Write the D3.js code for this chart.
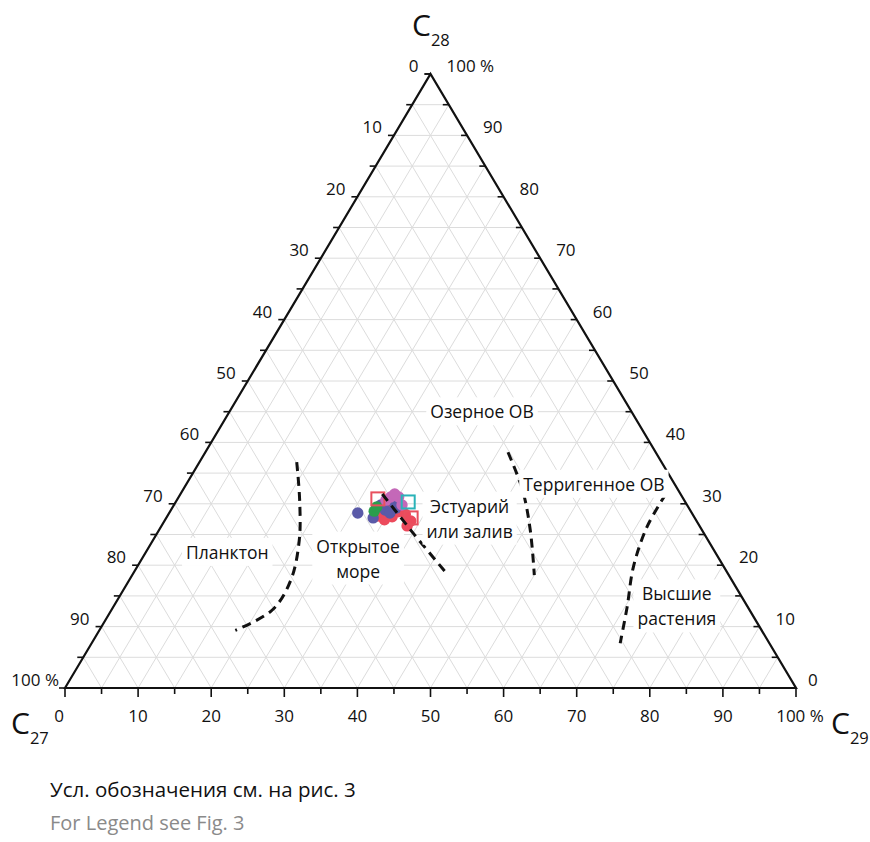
<!DOCTYPE html>
<html>
<head>
<meta charset="utf-8">
<script src="https://cdn.jsdelivr.net/npm/d3@7"></script>
<style>
  html, body { margin: 0; padding: 0; background: #fff; }
  svg { display: block; font-family: "Open Sans", "Noto Sans", sans-serif; }
</style>
</head>
<body>
<svg id="chart" width="870" height="842"></svg>
<script>
// Sterane composition C27 / C28 / C29, % of the sum
const sampleC27 = [45.7, 43.3, 42.6, 41.9, 40.8, 39.9, 39.9, 41.7, 43.2, 42.6, 41.3, 40.1, 39.0, 41.0, 44.0, 40.1, 39.3, 39.1, 38.8, 42.6, 41.3, 39.1, 41.8, 37.9, 38.8, 40.0];
const sampleC28 = [28.5, 28.8, 29.5, 29.8, 30.6, 31.1, 30.1, 29.0, 28.0, 27.4, 27.9, 28.7, 29.8, 29.6, 27.7, 29.3, 28.3, 27.2, 31.1, 28.7, 28.5, 31.6, 30.8, 30.3, 27.7, 26.4];
const sampleC29 = [25.8, 27.9, 27.9, 28.3, 28.6, 29.0, 30.0, 29.3, 28.8, 30.0, 30.8, 31.2, 31.2, 29.4, 28.3, 30.6, 32.4, 33.7, 30.1, 28.7, 30.2, 29.3, 27.4, 31.8, 33.5, 33.6];
// sample group for each point
const sampleGroup = ["b", "g", "g", "b", "m", "m", "b", "b", "r", "r", "r", "r", "m", "r", "b", "b", "r", "r", "m", "r", "b", "m", "rs", "cs", "rs", "r"];

// Facies boundaries (C27, C28, C29 per vertex)
const planktonBoundary = [[49.9, 36.8, 13.3], [52.6, 30.6, 16.8], [55.9, 24.1, 20.0], [60.3, 17.6, 22.1], [65.3, 12.7, 22.0], [72.0, 9.4, 18.6]];
const openSeaBoundary = [[40.8, 31.6, 27.6], [39.7, 24.9, 35.4], [38.4, 18.4, 43.2]];
const estuaryBoundary = [[20.2, 38.4, 41.4], [21.3, 32.2, 46.5], [23.5, 25.7, 50.8], [26.6, 18.4, 55.0]];
const terrigenousBoundary = [[2.0, 31.6, 66.4], [7.3, 26.2, 66.5], [12.4, 19.7, 67.9], [16.5, 13.2, 70.3], [20.4, 7.3, 72.3]];

// Field names and their anchor composition (C27, C28, C29)
const fieldNames = [["Озерное ОВ"], ["Планктон"], ["Открытое", "море"], ["Эстуарий", "или залив"], ["Терригенное ОВ"], ["Высшие", "растения"]];
const fieldAnchors = [[20.5, 44.9, 34.6], [66.8, 22.0, 11.2], [49.4, 21.0, 29.6], [30.9, 27.5, 41.6], [11.1, 33.1, 55.8], [9.7, 13.2, 77.1]];

const tickValues = [0, 10, 20, 30, 40, 50, 60, 70, 80, 90, 100];
const tickLabels = ["0", "10", "20", "30", "40", "50", "60", "70", "80", "90", "100 %"];
const gridValues = d3.range(5, 100, 5);
const minorTicks = d3.range(0, 101, 5);

const svg = d3.select("#chart");

// Horizontal position comes from C29 + C28/2, vertical from C28
const xs = d3.scaleLinear().domain([0, 100]).range([65, 796]);
const ys = d3.scaleLinear().domain([0, 100]).range([688, 74]);
function proj(c27, c28, c29) {
  const s = c27 + c28 + c29;
  const b = 100 * c28 / s, r = 100 * c29 / s;
  return [xs(r + b / 2), ys(b)];
}

// grid
const grid = svg.append("g").attr("stroke", "#dcdcdc").attr("stroke-width", 1).attr("fill", "none");
const gridSegs = [];
gridValues.forEach(v => {
  gridSegs.push([proj(100 - v, v, 0), proj(0, v, 100 - v)]);
  gridSegs.push([proj(100 - v, 0, v), proj(0, 100 - v, v)]);
  gridSegs.push([proj(v, 100 - v, 0), proj(v, 0, 100 - v)]);
});
grid.selectAll("line").data(gridSegs).join("line")
  .attr("x1", d => d[0][0]).attr("y1", d => d[0][1])
  .attr("x2", d => d[1][0]).attr("y2", d => d[1][1]);

// triangle frame
const corners = [proj(100, 0, 0), proj(0, 100, 0), proj(0, 0, 100)];
svg.append("path")
  .attr("d", d3.line()(corners) + "Z")
  .attr("fill", "none").attr("stroke", "#111").attr("stroke-width", 2.2).attr("stroke-linejoin", "miter");

// ticks
const ticks = svg.append("g").attr("stroke", "#111").attr("stroke-width", 1.6);
minorTicks.forEach(v => {
  const major = v % 10 === 0;
  const pb = proj(100 - v, 0, v);
  ticks.append("line").attr("x1", pb[0]).attr("y1", pb[1]).attr("x2", pb[0]).attr("y2", pb[1] + (major ? 9 : 6));
  const pl = proj(v, 100 - v, 0);
  ticks.append("line").attr("x1", pl[0]).attr("y1", pl[1]).attr("x2", pl[0] - 6).attr("y2", pl[1]);
  const pr = proj(0, v, 100 - v);
  ticks.append("line").attr("x1", pr[0]).attr("y1", pr[1]).attr("x2", pr[0] - 6).attr("y2", pr[1]);
});

// tick labels
const tl = svg.append("g").attr("font-size", 17).attr("fill", "#111");
tickValues.forEach((v, i) => {
  const pb = proj(100 - v, 0, v);
  tl.append("text").attr("x", pb[0] + (v === 0 ? -6 : v === 100 ? 4 : 0)).attr("y", pb[1] + 34)
    .attr("text-anchor", "middle").text(tickLabels[i]);
  const pl = proj(v, 100 - v, 0);
  tl.append("text").attr("x", pl[0] - (v === 100 ? 6 : 12)).attr("y", pl[1] - 2)
    .attr("text-anchor", "end").text(tickLabels[i]);
  const pr = proj(0, v, 100 - v);
  tl.append("text").attr("x", pr[0] + (v === 0 ? 12 : 16)).attr("y", pr[1] - 2)
    .attr("text-anchor", "start").text(tickLabels[i]);
});

// corner titles
function cornerTitle(x, y, sub) {
  const t = svg.append("text").attr("x", x).attr("y", y).attr("font-size", 30).attr("fill", "#111");
  t.append("tspan").text("C");
  t.append("tspan").attr("font-size", 16.5).attr("dy", 10).text(sub);
}
cornerTitle(412, 36, "28");
cornerTitle(11, 734, "27");
cornerTitle(831, 734, "29");

// sample points: red first, then blue/green, magenta on top, outlined squares last
const colors = { b: "#5a5aa8", r: "#ec4a5c", m: "#c468b8", g: "#2a9e4c", cs: "#2ab3b8", rs: "#e8505e" };
const pts = sampleC27.map((c, i) => ({ p: proj(c, sampleC28[i], sampleC29[i]), g: sampleGroup[i] }));
const order = ["r", "b", "g", "m", "rs", "cs"];
pts.sort((a, b) => order.indexOf(a.g) - order.indexOf(b.g));
const ptG = svg.append("g");
pts.forEach(d => {
  if (d.g === "cs" || d.g === "rs") {
    ptG.append("rect").attr("x", d.p[0] - 6.5).attr("y", d.p[1] - 6.5).attr("width", 13).attr("height", 13)
      .attr("fill", "none").attr("stroke", colors[d.g]).attr("stroke-width", 2);
  } else {
    ptG.append("circle").attr("cx", d.p[0]).attr("cy", d.p[1]).attr("r", 5.7).attr("fill", colors[d.g]);
  }
});

// facies boundaries, drawn over the samples
const line = d3.line().curve(d3.curveCatmullRom.alpha(0.5));
[planktonBoundary, openSeaBoundary, estuaryBoundary, terrigenousBoundary].forEach(b => {
  svg.append("path")
    .attr("d", line(b.map(p => proj(p[0], p[1], p[2]))))
    .attr("fill", "none").attr("stroke", "#111").attr("stroke-width", 3)
    .attr("stroke-dasharray", "9,6");
});

// field labels on white boxes
fieldNames.forEach((lines, i) => {
  const a = fieldAnchors[i];
  const p = proj(a[0], a[1], a[2]);
  const g = svg.append("g");
  const rect = g.append("rect").attr("fill", "#fff");
  const t = g.append("text").attr("font-size", 17.5).attr("fill", "#111").attr("text-anchor", "middle");
  const lh = 25;
  lines.forEach((s, j) => {
    t.append("tspan").attr("x", p[0]).attr("y", p[1] + 6 - (lines.length - 1) * lh / 2 + j * lh).text(s);
  });
  const bb = t.node().getBBox();
  rect.attr("x", bb.x - 4).attr("y", bb.y - 2).attr("width", bb.width + 8).attr("height", bb.height + 4);
});

// footnote
svg.append("text").attr("x", 50).attr("y", 797).attr("font-size", 20.5).attr("fill", "#111")
  .text("Усл. обозначения см. на рис. 3");
svg.append("text").attr("x", 50).attr("y", 830).attr("font-size", 20).attr("fill", "#8a8a8a")
  .text("For Legend see Fig. 3");
</script>
</body>
</html>
